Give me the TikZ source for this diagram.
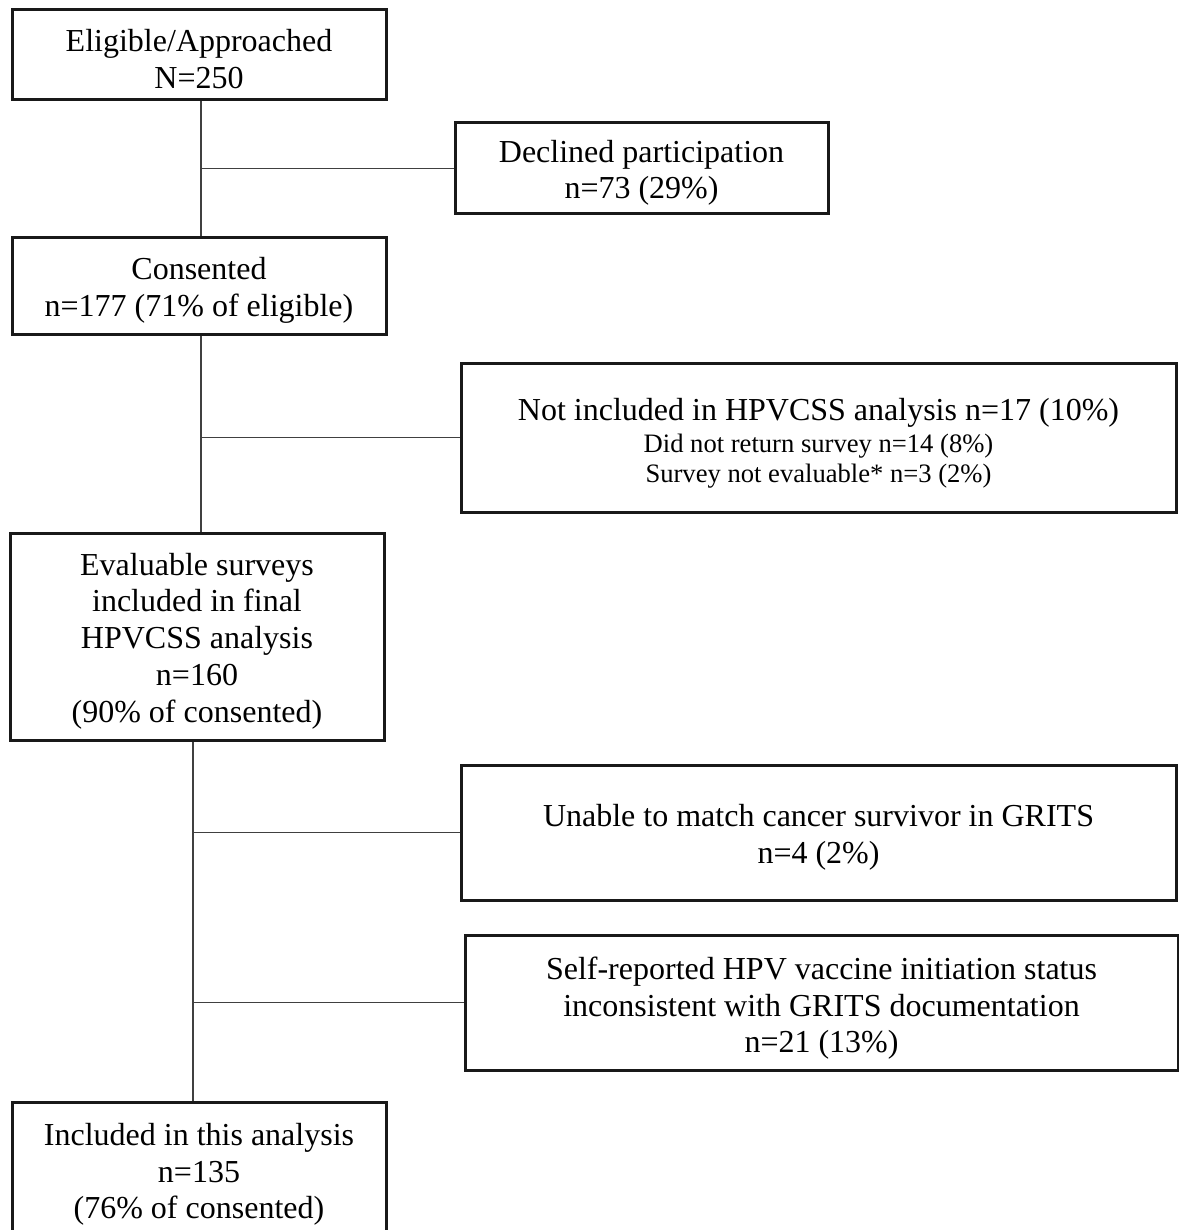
\documentclass[tikz,border=0pt]{standalone}
\usepackage{fontspec}
\setmainfont{Liberation Serif}
\usetikzlibrary{calc}

\newcommand{\tp}[1][15.5pt]{\rule{0pt}{#1}}
\newcommand{\subline}[1]{{\fontsize{13.3}{15.5}\selectfont #1}}

\begin{document}
\begin{tikzpicture}[x=0.5pt,y=-0.5pt]
\tikzstyle{box}=[rectangle, draw=black!90, line width=1.5pt, align=center, inner sep=0pt, font=\fontsize{16}{18.4}\selectfont]
\tikzstyle{stage}=[box, minimum width=187pt]
\tikzstyle{excl}=[box, minimum width=357.5pt]
\tikzstyle{connect}=[draw=black!75, line width=0.8pt]

  \useasboundingbox (0,0) rectangle (1178,1230);

  \node[stage, minimum height=45pt] (elig) at (199,55) {\tp Eligible/Approached\\N=250};
  \node[box, minimum width=186.5pt, minimum height=45.5pt] (decl) at (641.5,168.5) {\tp Declined participation\\n=73 (29\%)};
  \node[stage, minimum height=48pt] (cons) at (199,286) {\tp Consented\\n=177 (71\% of eligible)};
  \node[excl, minimum height=74.5pt] (notinc) at (818.5,437.5)
    {\tp[17pt]Not included in HPVCSS analysis n=17 (10\%)\\[-2.5pt]
     \subline{Did not return survey n=14 (8\%)}\\[-3pt]
     \subline{Survey not evaluable* n=3 (2\%)}};
  \node[stage, minimum height=103.5pt] (eval) at (197,636.5)
    {\tp Evaluable surveys\\included in final\\HPVCSS analysis\\n=160\\(90\% of consented)};
  \node[excl, minimum height=67.5pt] (unable) at (818.5,832.5) {\tp Unable to match cancer survivor in GRITS\\n=4 (2\%)};
  \node[box, minimum width=356.5pt, minimum height=67.5pt] (self) at (821.5,1002.5)
    {\tp[17pt]Self-reported HPV vaccine initiation status\\inconsistent with GRITS documentation\\n=21 (13\%)};
  \node[stage, minimum height=68pt] (incl) at (199,1170) {\tp Included in this analysis\\n=135\\(76\% of consented)};

  \coordinate (j1) at ([xshift=1pt]elig.south |- decl.west);
  \coordinate (j2) at ([xshift=1pt]cons.south |- notinc.west);
  \coordinate (j3) at ([xshift=-2pt]eval.south |- unable.west);
  \coordinate (j4) at ([xshift=-2pt]eval.south |- self.west);

  \path ([xshift=1pt]elig.south) edge [connect] ([xshift=1pt]elig.south |- cons.north)
        (j1) edge [connect] (decl.west)
        ([xshift=1pt]cons.south) edge [connect] ([xshift=1pt]cons.south |- eval.north)
        (j2) edge [connect] (notinc.west)
        ([xshift=-2pt]eval.south) edge [connect] ([xshift=-2pt]eval.south |- incl.north)
        (j3) edge [connect] (unable.west)
        (j4) edge [connect] (self.west);

\end{tikzpicture}
\end{document}
